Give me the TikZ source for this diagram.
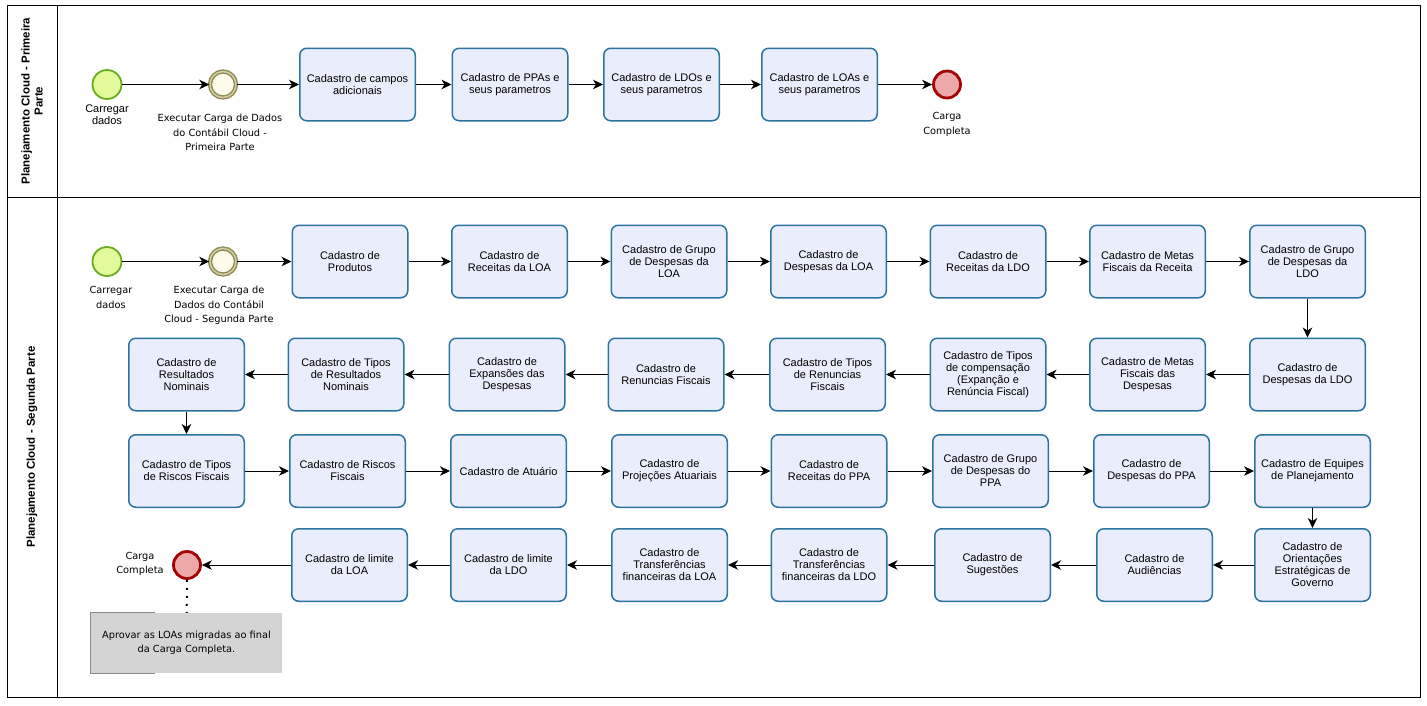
\documentclass[tikz,border=0pt]{standalone}
\usepackage{fontspec}
\setmainfont{Liberation Sans}
\newfontfamily\evfont{DejaVu Sans}
\usetikzlibrary{arrows.meta}
\definecolor{PCTaskFill}{HTML}{EAEEFC}
\definecolor{PCTaskLine}{HTML}{2B73A0}
\definecolor{PCStartFill}{HTML}{E3FA9A}
\definecolor{PCStartLine}{HTML}{69AD1F}
\definecolor{PCMidFill}{HTML}{FFFBEC}
\definecolor{PCMidLine}{HTML}{8E8A52}
\definecolor{PCMidRing}{HTML}{D3CFA8}
\definecolor{PCEndFill}{HTML}{EDA8A8}
\definecolor{PCEndLine}{HTML}{A30404}
\definecolor{PCNoteFill}{HTML}{D4D4D4}
\definecolor{PCNoteLine}{HTML}{8A8A8A}

\tikzset{
  tarefa/.style={draw=PCTaskLine,fill=PCTaskFill,line width=1.5pt,rounded corners=7pt,
    minimum width=115.5pt,minimum height=72.5pt,inner sep=2pt,align=center,
    font=\fontsize{11}{12}\selectfont},
  inicio/.style={circle,draw=PCStartLine,fill=PCStartFill,line width=1.8pt,minimum size=29pt,inner sep=0pt},
  interm/.style={circle,draw=PCMidLine,fill=PCMidFill,line width=1.4pt,double=PCMidRing,
    double distance=1.5pt,minimum size=26pt,inner sep=0pt},
  fim/.style={circle,draw=PCEndLine,fill=PCEndFill,line width=2.8pt,minimum size=27pt,inner sep=0pt},
  rotulo/.style={align=center,font=\evfont\fontsize{9.8}{14.5}\selectfont},
  fluxo/.style={-{Stealth[length=10pt,width=9.5pt,inset=3pt]},line width=1pt},
  associa/.style={line width=2pt,dash pattern=on 2pt off 6pt},
  nota/.style={fill=PCNoteFill,minimum width=191pt,minimum height=60pt,align=center,
    font=\evfont\fontsize{9.8}{14.5}\selectfont},
  raia/.style={font=\bfseries\fontsize{11.5}{13}\selectfont,align=center,rotate=90}
}

\begin{document}
\begin{tikzpicture}[x=1pt,y=-1pt]
\path[use as bounding box] (0,0) rectangle (1427,705);
\fill[white] (0,0) rectangle (1427,705);
% pool and lanes
\draw[line width=1pt] (7,5) rectangle (1420,697);
\draw[line width=1pt] (57,5) -- (57,697);
\draw[line width=1pt] (7,197) -- (1420,197);
\node[raia] (raiaA) at (32,101) {Planejamento Cloud - Primeira\\Parte};
\node[raia] (raiaB) at (32,447) {Planejamento Cloud - Segunda Parte};

% primeira parte
\node[inicio] (iniA) at (107,84.5) {};
\node[interm] (intA) at (223,84.5) {};
\node[tarefa] (campos) at (357.5,84.5) {Cadastro de campos\\adicionais};
\node[tarefa] (ppas) at (510,84.5) {Cadastro de PPAs e\\seus parametros};
\node[tarefa] (ldos) at (661.5,84.5) {Cadastro de LDOs e\\seus parametros};
\node[tarefa] (loas) at (819.5,84.5) {Cadastro de LOAs e\\seus parametros};
\node[fim] (fimA) at (947,84.5) {};
\node[align=center,font=\fontsize{11}{12}\selectfont] (lbIniA) at (107,115) {Carregar\\dados};
\node[rotulo] (lbIntA) at (220,132.5) {Executar Carga de Dados\\do Contábil Cloud -\\Primeira Parte};
\node[rotulo] (lbFimA) at (947,124.5) {Carga\\Completa};

% segunda parte, linha 1
\node[inicio] (iniB) at (107,261.5) {};
\node[interm] (intB) at (223,261.5) {};
\node[tarefa] (produtos) at (350,261.5) {Cadastro de\\Produtos};
\node[tarefa] (recloa) at (509.5,261.5) {Cadastro de\\Receitas da LOA};
\node[tarefa] (grploa) at (669,261.5) {Cadastro de Grupo\\de Despesas da\\LOA};
\node[tarefa] (desploa) at (828.5,261.5) {Cadastro de\\Despesas da LOA};
\node[tarefa] (recldo) at (988,261.5) {Cadastro de\\Receitas da LDO};
\node[tarefa] (metrec) at (1147.5,261.5) {Cadastro de Metas\\Fiscais da Receita};
\node[tarefa] (grpldo) at (1307.5,261.5) {Cadastro de Grupo\\de Despesas da\\LDO};
\node[rotulo] (lbIniB) at (111,297.5) {Carregar\\dados};
\node[rotulo] (lbIntB) at (219,305.5) {Executar Carga de\\Dados do Contábil\\Cloud - Segunda Parte};

% linha 2
\node[tarefa] (despldo) at (1307.5,374.5) {Cadastro de\\Despesas da LDO};
\node[tarefa] (metdesp) at (1147.5,374.5) {Cadastro de Metas\\Fiscais das\\Despesas};
\node[tarefa] (compens) at (988,374.5) {Cadastro de Tipos\\de compensação\\(Expanção e\\Renúncia Fiscal)};
\node[tarefa] (tiporen) at (827.5,374.5) {Cadastro de Tipos\\de Renuncias\\Fiscais};
\node[tarefa] (renun) at (666,374.5) {Cadastro de\\Renuncias Fiscais};
\node[tarefa] (expans) at (507,374.5) {Cadastro de\\Expansões das\\Despesas};
\node[tarefa] (tiporesn) at (346,374.5) {Cadastro de Tipos\\de Resultados\\Nominais};
\node[tarefa] (resnom) at (186.5,374.5) {Cadastro de\\Resultados\\Nominais};

% linha 3
\node[tarefa] (tiporisc) at (186.5,471) {Cadastro de Tipos\\de Riscos Fiscais};
\node[tarefa] (riscos) at (347.5,471) {Cadastro de Riscos\\Fiscais};
\node[tarefa] (atuario) at (508.5,471) {Cadastro de Atuário};
\node[tarefa] (projat) at (669.5,471) {Cadastro de\\Projeções Atuariais};
\node[tarefa] (recppa) at (829,471) {Cadastro de\\Receitas do PPA};
\node[tarefa] (grpppa) at (990.5,471) {Cadastro de Grupo\\de Despesas do\\PPA};
\node[tarefa] (despppa) at (1151.5,471) {Cadastro de\\Despesas do PPA};
\node[tarefa] (equipes) at (1312.5,471) {Cadastro de Equipes\\de Planejamento};

% linha 4
\node[tarefa] (orient) at (1312.5,565) {Cadastro de\\Orientações\\Estratégicas de\\Governo};
\node[tarefa] (audien) at (1154.5,565) {Cadastro de\\Audiências};
\node[tarefa] (suges) at (992.5,565) {Cadastro de\\Sugestões};
\node[tarefa] (trfldo) at (829,565) {Cadastro de\\Transferências\\financeiras da LDO};
\node[tarefa] (trfloa) at (669.5,565) {Cadastro de\\Transferências\\financeiras da LOA};
\node[tarefa] (limldo) at (508.5,565) {Cadastro de limite\\da LDO};
\node[tarefa] (limloa) at (349.5,565) {Cadastro de limite\\da LOA};
\node[fim] (fimB) at (187,565) {};
\node[rotulo] (lbFimB) at (140,564) {Carga\\Completa};
\node[nota] (nota) at (186.5,643) {Aprovar as LOAs migradas ao final\\da Carga Completa.};
\draw[PCNoteLine,line width=1pt] ([xshift=64pt]nota.north west) -- (nota.north west)
  -- (nota.south west) -- ([xshift=64pt]nota.south west);
\draw[associa] (fimB) -- (nota);

% fluxos
\draw[fluxo] (iniA) -- (intA);
\draw[fluxo] (intA) -- (campos);
\draw[fluxo] (campos) -- (ppas);
\draw[fluxo] (ppas) -- (ldos);
\draw[fluxo] (ldos) -- (loas);
\draw[fluxo] (loas) -- (fimA);
\draw[fluxo] (iniB) -- (intB);
\draw[fluxo] (intB) -- (produtos);
\draw[fluxo] (produtos) -- (recloa);
\draw[fluxo] (recloa) -- (grploa);
\draw[fluxo] (grploa) -- (desploa);
\draw[fluxo] (desploa) -- (recldo);
\draw[fluxo] (recldo) -- (metrec);
\draw[fluxo] (metrec) -- (grpldo);
\draw[fluxo] (grpldo) -- (despldo);
\draw[fluxo] (despldo) -- (metdesp);
\draw[fluxo] (metdesp) -- (compens);
\draw[fluxo] (compens) -- (tiporen);
\draw[fluxo] (tiporen) -- (renun);
\draw[fluxo] (renun) -- (expans);
\draw[fluxo] (expans) -- (tiporesn);
\draw[fluxo] (tiporesn) -- (resnom);
\draw[fluxo] (resnom) -- (tiporisc);
\draw[fluxo] (tiporisc) -- (riscos);
\draw[fluxo] (riscos) -- (atuario);
\draw[fluxo] (atuario) -- (projat);
\draw[fluxo] (projat) -- (recppa);
\draw[fluxo] (recppa) -- (grpppa);
\draw[fluxo] (grpppa) -- (despppa);
\draw[fluxo] (despppa) -- (equipes);
\draw[fluxo] (equipes) -- (orient);
\draw[fluxo] (orient) -- (audien);
\draw[fluxo] (audien) -- (suges);
\draw[fluxo] (suges) -- (trfldo);
\draw[fluxo] (trfldo) -- (trfloa);
\draw[fluxo] (trfloa) -- (limldo);
\draw[fluxo] (limldo) -- (limloa);
\draw[fluxo] (limloa) -- (fimB);
\end{tikzpicture}
\end{document}
